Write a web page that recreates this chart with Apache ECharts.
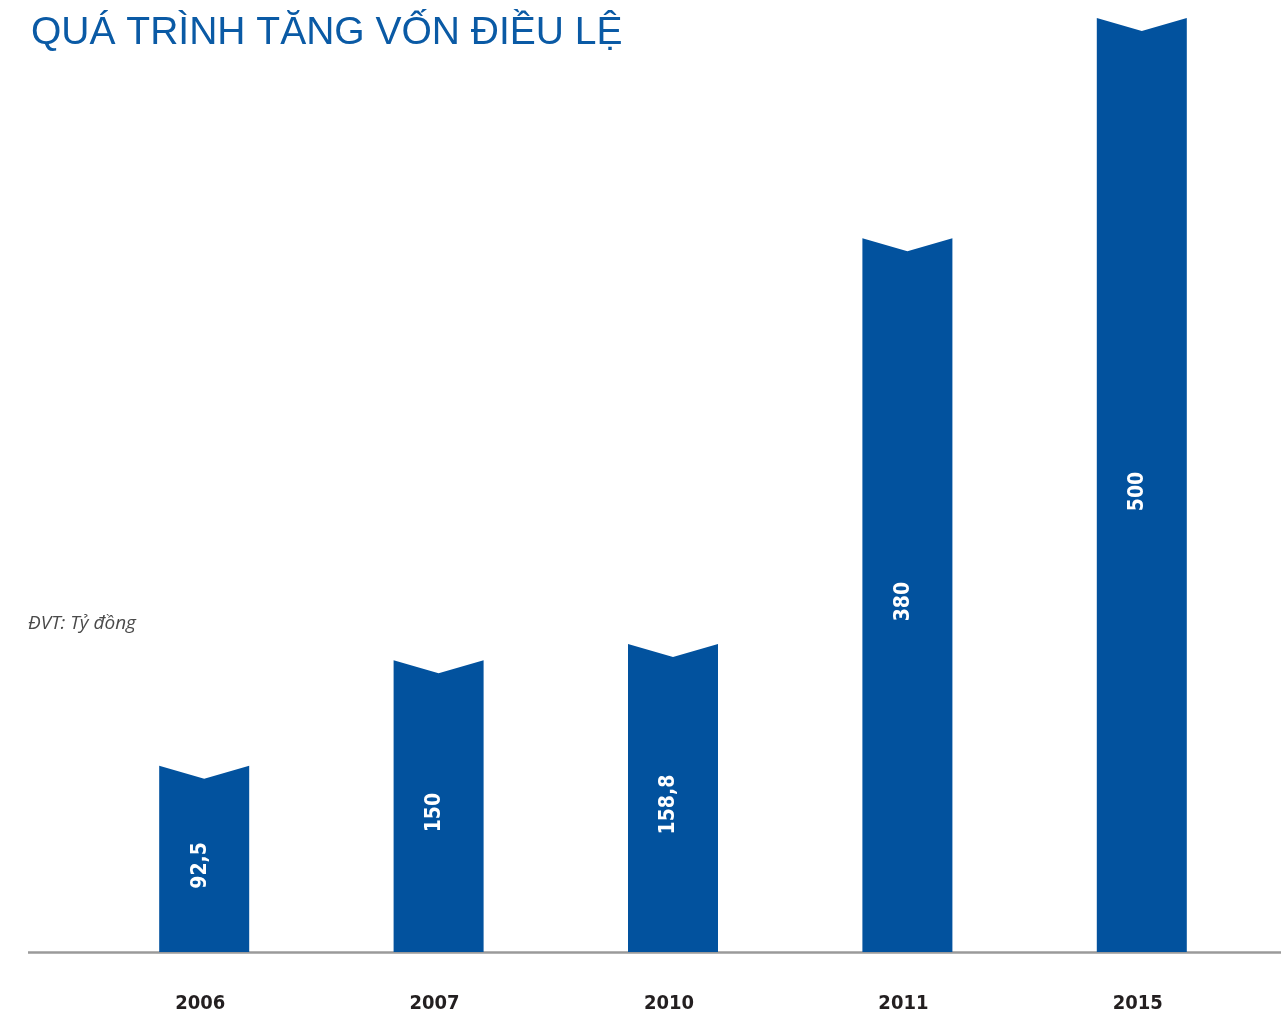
<!DOCTYPE html>
<html>
<head>
<meta charset="utf-8">
<script src="https://cdn.jsdelivr.net/npm/echarts@6/dist/echarts.min.js"></script>
<style>
  html, body { margin: 0; padding: 0; background: #fff; }
  #chart1 { width: 1281px; height: 1014px; }
</style>
</head>
<body>
<div id="chart1"></div>
<script>
(function(){

    // du lieu
    var years = ['2006', '2007', '2010', '2011', '2015'];
    var capital = [92.5, 150, 158.8, 380, 500];
    var capitalText = ['92,5', '150', '158,8', '380', '500'];

    var barColor = '#02529e';
    var condFont = '"DejaVu Sans Condensed", sans-serif';

    var chart1 = echarts.init(document.getElementById('chart1'));

    var option = {
        animation: false,
        title: {
            text: 'QUÁ TRÌNH TĂNG VỐN ĐIỀU LỆ',
            left: 26,
            top: 9,
            textStyle: {
                color: '#0a5aa5',
                fontSize: 39,
                fontWeight: 'normal',
                fontFamily: '"Liberation Sans", Arial, sans-serif'
            }
        },
        graphic: [
            {
                type: 'text',
                left: 28,
                top: 614,
                style: {
                    text: 'ĐVT: Tỷ đồng',
                    fill: '#4a4a4a',
                    font: 'italic 19px "Open Sans", "Noto Sans", sans-serif'
                }
            },
            {
                type: 'line',
                shape: { x1: 28, y1: 952.5, x2: 1281, y2: 952.5 },
                style: { stroke: '#9a9a9a', lineWidth: 2.5 }
            }
        ],
        grid: {
            top: 18,
            left: 87,
            right: 22,
            bottom: 62
        },
        xAxis: {
            type: 'category',
            data: years,
            axisLine: { show: false },
            axisTick: { show: false },
            axisLabel: {
                margin: 42,
                color: '#231f20',
                fontSize: 20,
                fontWeight: 'bold',
                fontFamily: condFont,
                padding: [0, 8, 0, 0]
            }
        },
        yAxis: {
            type: 'value',
            min: -9,
            max: 500,
            show: false,
            splitLine: { show: false }
        },
        series: [
            {
                type: 'custom',
                data: capital.map(function(v, i){ return [i, v]; }),
                renderItem: function(params, api){
                    var idx = api.value(0);
                    var top = api.coord([idx, api.value(1)]);
                    var base = api.coord([idx, -9]);
                    var half = 45;
                    var notch = 13;
                    var x = top[0];
                    var midY = (top[1] + notch + base[1]) / 2;
                    return {
                        type: 'group',
                        children: [
                            {
                                type: 'polygon',
                                shape: {
                                    points: [
                                        [x - half, base[1]],
                                        [x - half, top[1]],
                                        [x, top[1] + notch],
                                        [x + half, top[1]],
                                        [x + half, base[1]]
                                    ]
                                },
                                style: { fill: barColor }
                            },
                            {
                                type: 'text',
                                x: x - 4,
                                y: midY,
                                rotation: Math.PI / 2,
                                style: {
                                    text: capitalText[params.dataIndex],
                                    fill: '#fff',
                                    font: 'bold 21px ' + condFont,
                                    align: 'center',
                                    verticalAlign: 'middle'
                                }
                            }
                        ]
                    };
                }
            }
        ]
    };

    chart1.setOption(option);
    window.onresize = chart1.resize;

})();
</script>
</body>
</html>
